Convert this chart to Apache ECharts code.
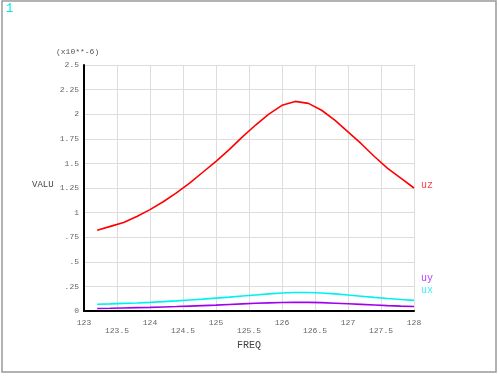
<!DOCTYPE html>
<html>
<head>
<meta charset="utf-8">
<script src="https://cdn.jsdelivr.net/npm/echarts@6/dist/echarts.min.js"></script>
<style>
    html, body { margin: 0; padding: 0; background: #fff; }
    #chart { width: 500px; height: 376px; }
</style>
</head>
<body>
<div id="chart"></div>
<script>
// frequency steps (Hz)
const freq = [123.2, 123.4, 123.6, 123.8, 124.0, 124.2, 124.4, 124.6, 124.8, 125.0,
    125.2, 125.4, 125.6, 125.8, 126.0, 126.2, 126.4, 126.6, 126.8, 127.0,
    127.2, 127.4, 127.6, 127.8, 128.0];
// amplitudes, x10**-6
const uz = [0.82, 0.86, 0.90, 0.96, 1.03, 1.11, 1.20, 1.30, 1.41, 1.52,
    1.64, 1.77, 1.89, 2.00, 2.09, 2.13, 2.11, 2.04, 1.94, 1.82,
    1.70, 1.57, 1.45, 1.35, 1.25];
const ux = [0.068, 0.072, 0.077, 0.082, 0.088, 0.095, 0.103, 0.112, 0.121, 0.131,
    0.141, 0.152, 0.163, 0.174, 0.183, 0.188, 0.188, 0.183, 0.174, 0.162,
    0.150, 0.138, 0.127, 0.117, 0.108];
const uy = [0.026, 0.028, 0.031, 0.034, 0.037, 0.041, 0.045, 0.050, 0.055, 0.060,
    0.066, 0.072, 0.078, 0.083, 0.087, 0.089, 0.088, 0.085, 0.079, 0.073,
    0.067, 0.061, 0.055, 0.050, 0.046];

const FONT = 'Liberation Mono';
const pairs = (ys) => freq.map((f, i) => [f, ys[i]]);

const myChart = echarts.init(document.getElementById('chart'));
const option = {
    animation: false,
    backgroundColor: '#fff',
    grid: { left: 84, right: 86, top: 65, bottom: 65 },
    xAxis: {
        type: 'value',
        min: 123, max: 128, interval: 0.5,
        name: 'FREQ',
        nameLocation: 'middle',
        nameGap: 25,
        nameTextStyle: { fontFamily: FONT, fontSize: 10, color: '#444' },
        axisLine: { lineStyle: { color: '#000', width: 2 } },
        axisTick: { show: false },
        axisLabel: {
            fontFamily: FONT, fontSize: 8, color: '#666', lineHeight: 8, margin: 8,
            formatter: (v) => (Math.abs(v % 1) < 1e-6 ? String(v) : '\n' + v)
        },
        splitLine: { show: true, lineStyle: { color: '#ddd', width: 1 } }
    },
    yAxis: {
        type: 'value',
        min: 0, max: 2.5, interval: 0.25,
        axisLine: { show: true, lineStyle: { color: '#000', width: 2 } },
        axisTick: { show: false },
        axisLabel: {
            fontFamily: FONT, fontSize: 8, color: '#666', margin: 5,
            formatter: (v) => String(Number(v.toFixed(2))).replace(/^0\./, '.')
        },
        splitLine: { show: true, lineStyle: { color: '#ddd', width: 1 } }
    },
    series: [
        { name: 'uz', type: 'line', data: pairs(uz), symbol: 'none', lineStyle: { color: '#ff0000', width: 1.6 } },
        { name: 'ux', type: 'line', data: pairs(ux), symbol: 'none', lineStyle: { color: '#00f0f0', width: 1.6 } },
        { name: 'uy', type: 'line', data: pairs(uy), symbol: 'none', lineStyle: { color: '#a000f0', width: 1.6 } }
    ],
    graphic: [
        { type: 'rect', shape: { x: 2, y: 1, width: 494, height: 371 }, style: { fill: 'none', stroke: '#999', lineWidth: 1.5 } },
        { type: 'text', left: 6, top: 3, style: { text: '1', fill: '#00e0e0', font: '12px ' + FONT } },
        { type: 'text', left: 56, top: 48, style: { text: '(x10**-6)', fill: '#555', font: '8px ' + FONT } },
        { type: 'text', left: 32, top: 180, style: { text: 'VALU', fill: '#444', font: '9px ' + FONT } },
        { type: 'text', left: 421, top: 180, style: { text: 'uz', fill: '#ff4040', font: '10px ' + FONT } },
        { type: 'text', left: 421, top: 273, style: { text: 'uy', fill: '#b040ff', font: '10px ' + FONT } },
        { type: 'text', left: 421, top: 285, style: { text: 'ux', fill: '#40f0f0', font: '10px ' + FONT } }
    ]
};
myChart.setOption(option);
</script>
</body>
</html>
